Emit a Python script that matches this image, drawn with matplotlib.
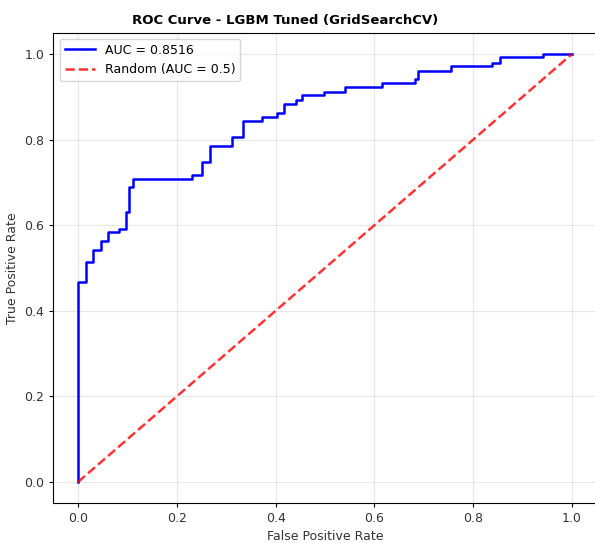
import matplotlib
matplotlib.use("Agg")
import matplotlib.pyplot as plt

# ---------- ROC curve points ----------
fpr = [0.0, 0.0, 0.016, 0.016, 0.031, 0.031, 0.047, 0.047, 0.061, 0.061,
       0.084, 0.084, 0.098, 0.098, 0.104, 0.104, 0.111, 0.111, 0.231, 0.231,
       0.252, 0.252, 0.267, 0.267, 0.311, 0.311, 0.333, 0.333, 0.372, 0.372,
       0.402, 0.402, 0.416, 0.416, 0.441, 0.441, 0.453, 0.453, 0.497, 0.497,
       0.540, 0.540, 0.615, 0.615, 0.682, 0.682, 0.689, 0.689, 0.756, 0.756,
       0.839, 0.839, 0.854, 0.854, 0.942, 0.942, 1.0]
tpr = [0.0, 0.467, 0.467, 0.513, 0.513, 0.542, 0.542, 0.563, 0.563, 0.583,
       0.583, 0.591, 0.591, 0.630, 0.630, 0.689, 0.689, 0.708, 0.708, 0.717,
       0.717, 0.747, 0.747, 0.786, 0.786, 0.805, 0.805, 0.844, 0.844, 0.852,
       0.852, 0.863, 0.863, 0.883, 0.883, 0.892, 0.892, 0.904, 0.904, 0.912,
       0.912, 0.924, 0.924, 0.933, 0.933, 0.941, 0.941, 0.961, 0.961, 0.972,
       0.972, 0.980, 0.980, 0.992, 0.992, 1.0, 1.0]
auc_value = 0.8516
diag = [0, 1]

# ---------- figure ----------
fig = plt.figure(figsize=(5.95, 5.43), dpi=100)
ax = fig.add_axes([53.3 / 595, 39.6 / 543, 543.4 / 595, 470.8 / 543])

ax.plot(fpr, tpr, color='blue', lw=1.8, label=f'AUC = {auc_value:.4f}')
ax.plot(diag, diag, color='red', lw=1.8, ls='--', alpha=0.8, label='Random (AUC = 0.5)')

ax.set_xlim(-0.05, 1.05)
ax.set_ylim(-0.05, 1.05)
ax.set_xlabel('False Positive Rate', fontsize=9, color='#333333', labelpad=3)
ax.set_ylabel('True Positive Rate', fontsize=9, color='#333333')
# title sits over the uncropped figure centre, not the clipped axes
ax.set_title('ROC Curve - LGBM Tuned (GridSearchCV)', fontsize=9.5, fontweight='bold',
             pad=6, x=(285.5 - 53.3) / 543.4)
ax.tick_params(labelsize=9, labelcolor='#333333', length=3)
ax.legend(loc='upper left', fontsize=9, handlelength=2.4)
ax.grid(True, alpha=0.3)

fig.savefig('out.png', dpi=100)
